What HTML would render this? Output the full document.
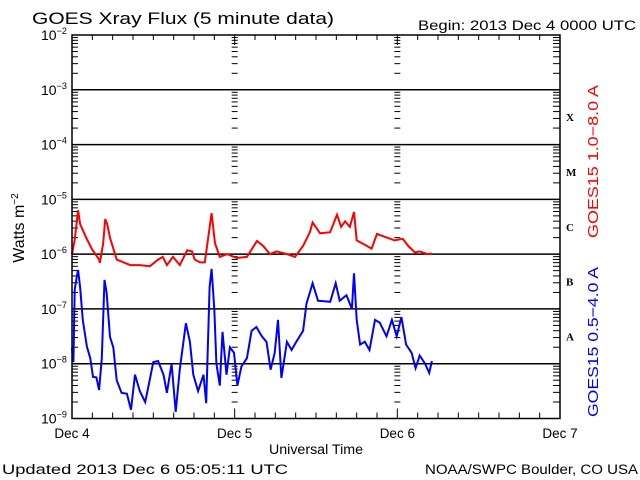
<!DOCTYPE html>
<html><head><meta charset="utf-8"><style>
body{margin:0;background:#fff;width:640px;height:480px;overflow:hidden}
svg{display:block;font-family:"Liberation Sans",sans-serif}
</style></head><body>
<svg id="chart" width="640" height="480" viewBox="0 0 640 480">
<rect width="640" height="480" fill="#fff"/>
<text x="32" y="24" font-size="17" fill="#000" textLength="302" lengthAdjust="spacingAndGlyphs">GOES Xray Flux (5 minute data)</text>
<text x="418" y="30" font-size="13.5" fill="#000" textLength="218" lengthAdjust="spacingAndGlyphs">Begin:  2013 Dec 4 0000 UTC</text>
<g id="grid"></g>
<g id="ticks"></g>
<g id="labels"></g>
<polyline id="longLine" fill="none" stroke="#ff0000" stroke-width="2"/>
<polyline id="shortLine" fill="none" stroke="#0000ff" stroke-width="2"/>
<rect x="72" y="35" width="488" height="383.5" fill="none" stroke="#000" stroke-width="1.5"/>
<text transform="translate(24,228) rotate(-90)" font-size="16" text-anchor="middle" fill="#000">Watts m<tspan dy="-6" font-size="10">−2</tspan></text>
<text x="269" y="454" font-size="13.5" fill="#000" textLength="94" lengthAdjust="spacingAndGlyphs">Universal Time</text>
<text transform="translate(598,238) rotate(-90)" font-size="15" fill="#ff0000" textLength="153" lengthAdjust="spacingAndGlyphs">GOES15 1.0−8.0 A</text>
<text transform="translate(598,417) rotate(-90)" font-size="15" fill="#0000ff" textLength="150" lengthAdjust="spacingAndGlyphs">GOES15 0.5−4.0 A</text>
<text x="2" y="474" font-size="13.5" fill="#000" textLength="286" lengthAdjust="spacingAndGlyphs">Updated 2013 Dec  6 05:05:11 UTC</text>
<text x="425" y="474" font-size="13.5" fill="#000" textLength="213" lengthAdjust="spacingAndGlyphs">NOAA/SWPC Boulder, CO USA</text>
</svg>
<script>
const dayLabels=["Dec 4","Dec 5","Dec 6","Dec 7"];
const decadeExps=[-2,-3,-4,-5,-6,-7,-8,-9];
const classLabels=["X","M","C","B","A"];
const classExps=[-3.5,-4.5,-5.5,-6.5,-7.5];
const longHours=[0,0.4,0.9,1.2,2.1,2.9,4.0,4.1,4.6,4.9,5.2,5.6,6.6,8.6,10.0,11.5,12.7,13.4,14.0,14.9,15.9,17.0,17.7,18.1,18.9,19.6,20.1,20.6,21.1,21.8,22.9,24.3,25.8,27.3,28.2,29.2,30.2,31.7,32.9,34.1,35.1,35.5,36.6,38.1,39.1,39.7,40.3,41.0,41.6,42.0,43.5,44.2,45.0,46.5,47.6,48.8,49.6,50.6,51.3,52.4,53.1];
const longLog=[-6.0,-5.74,-5.2,-5.45,-5.7,-5.9,-6.1,-6.16,-5.8,-5.36,-5.45,-5.7,-6.1,-6.2,-6.2,-6.22,-6.1,-6.05,-6.2,-6.05,-6.2,-5.93,-5.95,-6.1,-6.15,-6.15,-5.7,-5.25,-5.8,-6.05,-6.0,-6.07,-6.05,-5.76,-5.85,-6.0,-5.95,-6.0,-6.05,-5.85,-5.6,-5.42,-5.62,-5.6,-5.28,-5.5,-5.4,-5.5,-5.23,-5.75,-5.85,-5.9,-5.63,-5.7,-5.75,-5.72,-5.85,-5.97,-5.95,-6.0,-5.99];
const shortHours=[0,0.2,0.4,0.7,0.9,1.2,1.6,2.2,2.7,3.1,3.6,4.0,4.4,4.8,5.1,5.6,6.1,6.6,7.3,8.1,8.7,9.3,10.0,10.8,11.3,12.0,12.7,13.5,14.0,14.7,15.3,15.9,16.8,17.4,17.9,18.6,19.4,19.8,20.3,20.6,21.0,21.3,21.8,22.2,22.8,23.3,23.9,24.4,25.0,25.8,26.5,27.2,28.0,28.7,29.3,29.9,30.4,30.9,31.7,32.4,33.1,34.1,34.6,35.1,35.5,36.3,38.1,38.9,39.5,40.5,41.3,41.6,42.0,42.5,43.2,43.9,44.7,45.4,46.4,47.2,47.9,48.6,49.3,50.1,50.7,51.3,52.1,52.7,53.1];
const shortLog=[-7.71,-7.97,-6.65,-6.42,-6.29,-6.6,-7.2,-7.69,-7.9,-8.24,-8.25,-8.48,-7.9,-6.47,-6.7,-7.51,-7.7,-8.3,-8.53,-8.55,-8.84,-8.2,-8.5,-8.7,-8.4,-7.97,-7.95,-8.2,-8.53,-8.0,-8.88,-8.1,-7.26,-7.6,-8.2,-8.5,-8.2,-8.72,-6.6,-6.27,-7.0,-8.0,-8.4,-7.42,-8.2,-7.7,-7.8,-8.4,-8.05,-7.9,-7.4,-7.33,-7.5,-7.6,-8.11,-7.8,-7.2,-8.26,-7.6,-7.75,-7.6,-7.4,-6.9,-6.7,-6.53,-6.85,-6.87,-6.53,-6.85,-6.75,-7.0,-6.35,-7.2,-7.65,-7.6,-7.75,-7.2,-7.25,-7.5,-7.2,-7.5,-7.15,-7.65,-7.8,-8.08,-7.85,-8.0,-8.17,-7.95];

const X0=72,X1=560,Y0=35,Y1=418.5;
const xs=h=>X0+(X1-X0)*h/72;
const ys=l=>Y0+(Y1-Y0)*(-2-l)/7;
const NS="http://www.w3.org/2000/svg";
function mk(tag,attrs,parent){const e=document.createElementNS(NS,tag);for(const k in attrs)e.setAttribute(k,attrs[k]);parent.appendChild(e);return e;}
const grid=document.getElementById('grid'),ticks=document.getElementById('ticks'),labels=document.getElementById('labels');
decadeExps.forEach(ex=>{
  if(ex===-2||ex===-9)return;
  const g=mk('line',{x1:X0,x2:X1,y1:ys(ex),y2:ys(ex),stroke:'#000','stroke-width':1.5},grid);
  
  
});
const tickXs=[X0,xs(24),xs(48),X1];
for(let ex=-9;ex<-2;ex++){
  for(let m=2;m<10;m++){
    const y=ys(ex+Math.log10(m));
    tickXs.forEach((tx,i)=>{
      let a,b;
      if(i===0){a=tx;b=tx+6;}else if(i===3){a=tx-7;b=tx;}else{a=tx-3;b=tx+3;}
      const t=mk('line',{x1:a,x2:b,y1:y,y2:y,stroke:'#000','stroke-width':1},ticks);
      
      
    });
  }
}
for(let h=0;h<=72;h+=3){
  const x=xs(h);
  const day=h%24===0;
  const b=mk('line',{x1:x,x2:x,y1:Y1,y2:Y1-(day?10:6),stroke:'#000','stroke-width':1},ticks);
  
  
  const t=mk('line',{x1:x,x2:x,y1:Y0,y2:Y0+(day?10:5),stroke:'#000','stroke-width':1},ticks);
  
  
}
decadeExps.forEach(ex=>{
  const t=mk('text',{x:41,y:ys(ex)+5,'font-size':14,fill:'#000'},labels);
  
  
  t.textContent='10';
  const s=mk('tspan',{dy:-6,'font-size':9},t);s.textContent='−'+(-ex);
});
dayLabels.forEach((d,i)=>{
  const t=mk('text',{x:xs(i*24),y:438,'font-size':13.5,'text-anchor':'middle',fill:'#000'},labels);
  
  
  t.textContent=d;
});
classLabels.forEach((c,i)=>{
  const t=mk('text',{x:566,y:ys(classExps[i])+4,'font-size':11,'font-weight':'bold','font-family':'Liberation Serif, serif',fill:'#000'},labels);
  
  
  t.textContent=c;
});
function pts(hs,ls){return hs.map((h,i)=>xs(h).toFixed(1)+','+ys(ls[i]).toFixed(1)).join(' ');}
document.getElementById('longLine').setAttribute('points',pts(longHours,longLog));
document.getElementById('shortLine').setAttribute('points',pts(shortHours,shortLog));
</script>
</body></html>
